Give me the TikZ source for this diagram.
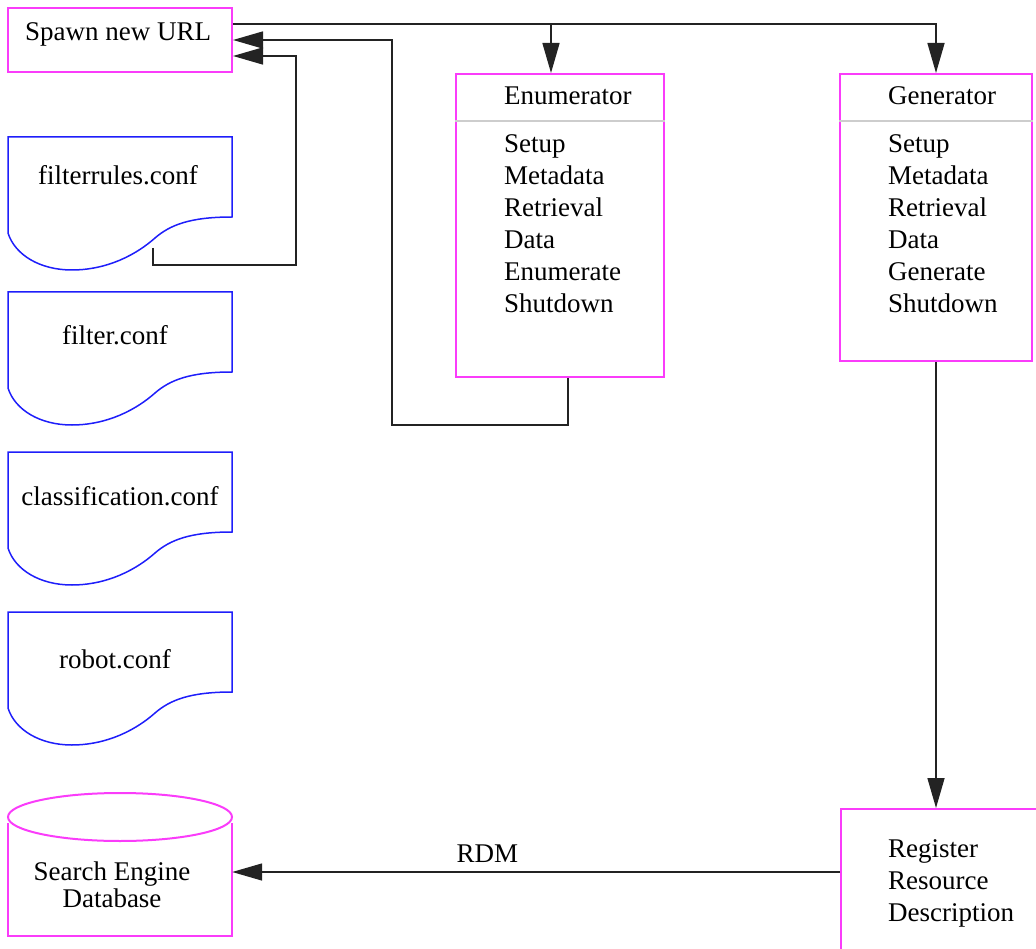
\documentclass[tikz,border=0pt]{standalone}
\usepackage{fontspec}
\setmainfont{Liberation Serif}
\usetikzlibrary{arrows.meta,calc}

\definecolor{boxpink}{RGB}{250,60,250}
\definecolor{docblue}{RGB}{30,30,250}
\definecolor{sepgray}{RGB}{205,205,205}
\definecolor{wire}{RGB}{35,35,35}

\tikzset{
  box/.style={draw=boxpink, line width=2pt, inner sep=0pt},
  word/.style={anchor=base west, inner sep=0pt},
  link/.style={draw=wire, line width=1.5pt, -{Triangle[length=30pt,width=17pt]}},
  plain/.style={draw=wire, line width=1.5pt},
  sep/.style={draw=sepgray, line width=1.5pt},
  confdoc/.pic={
    \draw[docblue, line width=1.5pt] (0,96) -- (0,0) -- (224,0) -- (224,80)
      .. controls (182,80) and (162,88) .. (147,101)
      .. controls (122,123) and (92,133) .. (64,133)
      .. controls (32,133) and (7,118) .. (0,96);
  }
}

\begin{document}
\begin{tikzpicture}[x=1pt, y=-1pt, every node/.style={font=\fontsize{27}{32}\selectfont}]
\useasboundingbox (0,0) rectangle (1036,949);
\clip (0,0) rectangle (1036,949);

% spawn box
\node[box, minimum width=224pt, minimum height=64pt] (spawn) at (120,40) {};
\node[word] (spawntext) at (25,41) {Spawn new URL};

% config files
\pic at (8,137) {confdoc};
\node[anchor=base, inner sep=0pt] (filterrules) at (118,185) {filterrules.conf};
\coordinate (frtail) at (153,248);
\pic at (8,292) {confdoc};
\node[anchor=base, inner sep=0pt] (filter) at (115,345) {filter.conf};
\pic at (8,452) {confdoc};
\node[anchor=base, inner sep=0pt] (classification) at (120,505) {classification.conf};
\pic at (8,612) {confdoc};
\node[anchor=base, inner sep=0pt] (robot) at (115,668) {robot.conf};

% database
\node[minimum width=224pt, minimum height=128pt, inner sep=0pt] (db) at (120,872) {};
\draw[boxpink, line width=2pt] (db.west |- 0,823) -- (db.south west) -- (db.south east) -- (db.east |- 0,823);
\draw[boxpink, line width=2pt] (120,817) ellipse [x radius=112, y radius=24];
\node[anchor=base, align=center, inner sep=0pt, font=\fontsize{27}{27}\selectfont] (dbtext) at (112,907) {Search Engine\\Database};

% enumerator
\node[box, minimum width=208pt, minimum height=303pt] (enum) at (560,225.5) {};
\draw[sep] (enum.west |- 0,121) -- (enum.east |- 0,121);
\node[word] (enumhead) at (504,105) {Enumerator};
\foreach \w [count=\i] in {Setup,Metadata,Retrieval,Data,Enumerate,Shutdown}
  \node[word, name=enum-\i] at (504,121+32*\i) {\w};

% generator
\node[box, minimum width=192pt, minimum height=287pt] (gen) at (936,217.5) {};
\draw[sep] (gen.west |- 0,121) -- (gen.east |- 0,121);
\node[word] (genhead) at (888,105) {Generator};
\foreach \w [count=\i] in {Setup,Metadata,Retrieval,Data,Generate,Shutdown}
  \node[word, name=gen-\i] at (888,121+32*\i) {\w};

% register
\node[box, anchor=north west, minimum width=220pt, minimum height=160pt] (reg) at (840,808) {};
\node[word, align=left] (regtext) at (888,921) {Register\\Resource\\Description};

% connectors
\coordinate (fork) at ([yshift=-17pt]spawn.north east);
\draw[link] (fork) -| (gen.north);
\draw[link] ([xshift=-9pt]enum.north |- fork) -- ([xshift=-9pt]enum.north);
\coordinate (enumloop) at (392,425);
\draw[link] ([xshift=8pt]enum.south) |- (enumloop) |- ([yshift=-33pt]spawn.north east);
\coordinate (frloop) at (296,265);
\draw[link] (frtail) |- (frloop) |- ([yshift=-49pt]spawn.north east);
\draw[link] (gen.south) -- (gen.south |- reg.north);
\draw[link] (reg.west |- db.east) -- node[above=9pt, pos=0.58, inner sep=0pt] (rdm) {RDM} (db.east);
\end{tikzpicture}
\end{document}
